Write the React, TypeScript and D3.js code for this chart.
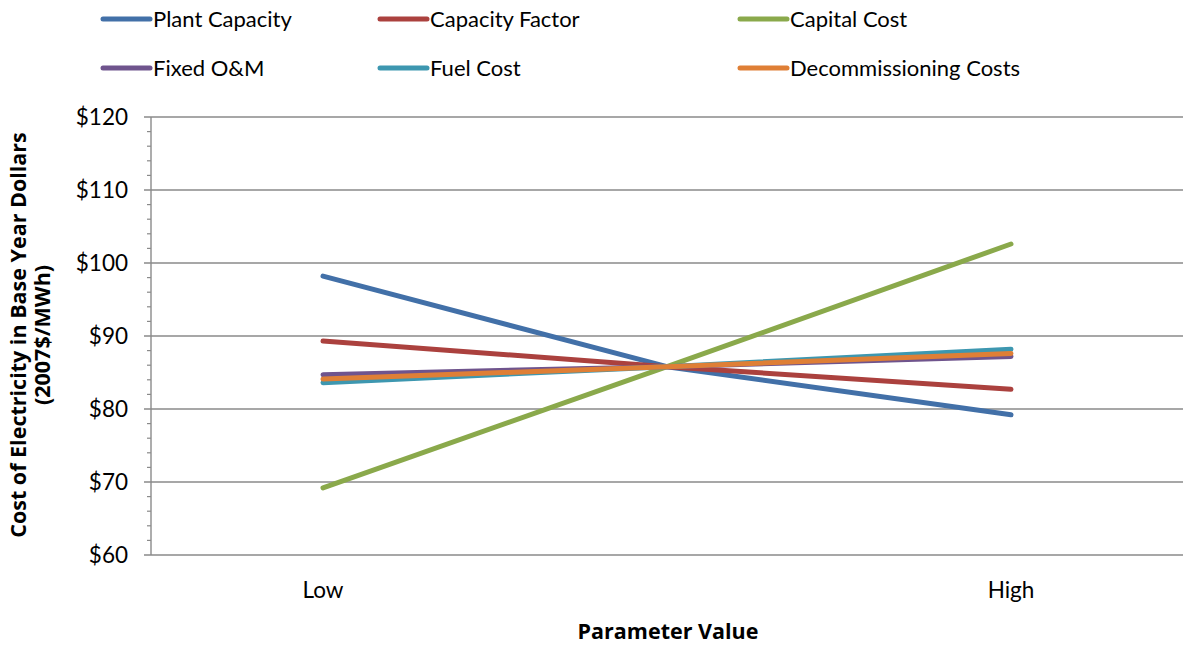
import React from "react";
import * as d3 from "d3";

// Sensitivity of levelized electricity cost to each input parameter
const categories = ["Low", "Base", "High"];
const categoryLabels = ["Low", "", "High"];

const plantCapacity = [98.2, 85.8, 79.2];
const capacityFactor = [89.3, 85.8, 82.7];
const capitalCost = [69.2, 85.8, 102.6];
const fixedOM = [84.7, 85.8, 87.2];
const fuelCost = [83.6, 85.8, 88.2];
const decommissioningCosts = [84.1, 85.8, 87.6];

const seriesNames = [
  "Plant Capacity",
  "Capacity Factor",
  "Capital Cost",
  "Fixed O&M",
  "Fuel Cost",
  "Decommissioning Costs",
];
const seriesValues = [plantCapacity, capacityFactor, capitalCost, fixedOM, fuelCost, decommissioningCosts];
const seriesColors = ["#4270a8", "#ab413e", "#8aa94b", "#6f548d", "#3d97b0", "#df7f36"];

const yTicks = [60, 70, 80, 90, 100, 110, 120];

const W = 1183;
const H = 645;
const left = 151;
const right = 1183;
const top = 117;
const bottom = 555;

const FONT = "Lato, 'Open Sans', sans-serif";
const TITLE_FONT = "'Open Sans', Lato, sans-serif";

export default function App() {
  const x = d3.scalePoint<string>().domain(categories).range([left, right]).padding(0.5);
  const y = d3.scaleLinear().domain([60, 120]).range([bottom, top]);
  const line = d3
    .line<number>()
    .x((_, i) => x(categories[i]) as number)
    .y((d) => y(d));

  const minorTicks = d3.range(60, 120.001, 2).filter((v) => v % 10 !== 0);

  const legendCols = [103, 380, 740];
  const legendRows = [19, 68];

  return (
    <svg
      width={W}
      height={H}
      style={{ position: "absolute", left: 0, top: 0, background: "#fff" }}
      fontFamily={FONT}
    >
      {/* gridlines */}
      {yTicks.map((t) => (
        <line key={"g" + t} x1={left - 7} x2={right} y1={y(t)} y2={y(t)} stroke="#8a8a8a" strokeWidth={1.4} />
      ))}
      {minorTicks.map((t) => (
        <line key={"m" + t} x1={left - 4} x2={left} y1={y(t)} y2={y(t)} stroke="#8a8a8a" strokeWidth={1.2} />
      ))}
      {/* y axis */}
      <line x1={left} x2={left} y1={top} y2={bottom} stroke="#8a8a8a" strokeWidth={1.4} />
      {yTicks.map((t) => (
        <text key={"t" + t} x={128} y={y(t)} dy="0.35em" textAnchor="end" fontSize={22.5} fill="#000">
          {"$" + t}
        </text>
      ))}
      {/* category labels */}
      {categories.map((c, i) => (
        <text key={c} x={x(c)} y={598} textAnchor="middle" fontSize={22.5} fill="#000">
          {categoryLabels[i]}
        </text>
      ))}
      <text x={668} y={639} textAnchor="middle" fontSize={21.5} fontWeight="bold" fill="#000" fontFamily={TITLE_FONT}>
        Parameter Value
      </text>
      <g transform="translate(0,335) rotate(-90)" fontFamily={TITLE_FONT}>
        <text x={0} y={26} textAnchor="middle" fontSize={21.5} fontWeight="bold" fill="#000">
          Cost of Electricity in Base Year Dollars
        </text>
        <text x={0} y={50} textAnchor="middle" fontSize={21.5} fontWeight="bold" fill="#000">
          (2007$/MWh)
        </text>
      </g>
      {/* series */}
      {seriesValues.map((vals, i) => (
        <path
          key={seriesNames[i]}
          d={line(vals) || ""}
          fill="none"
          stroke={seriesColors[i]}
          strokeWidth={5}
          strokeLinecap="round"
          strokeLinejoin="round"
        />
      ))}
      {/* legend */}
      {seriesNames.map((name, i) => {
        const lx = legendCols[i % 3];
        const ly = legendRows[Math.floor(i / 3)];
        return (
          <g key={"l" + name}>
            <line x1={lx} x2={lx + 47} y1={ly} y2={ly} stroke={seriesColors[i]} strokeWidth={5} strokeLinecap="round" />
            <text x={lx + 50} y={ly} dy="0.35em" fontSize={22} fill="#000">
              {name}
            </text>
          </g>
        );
      })}
    </svg>
  );
}
